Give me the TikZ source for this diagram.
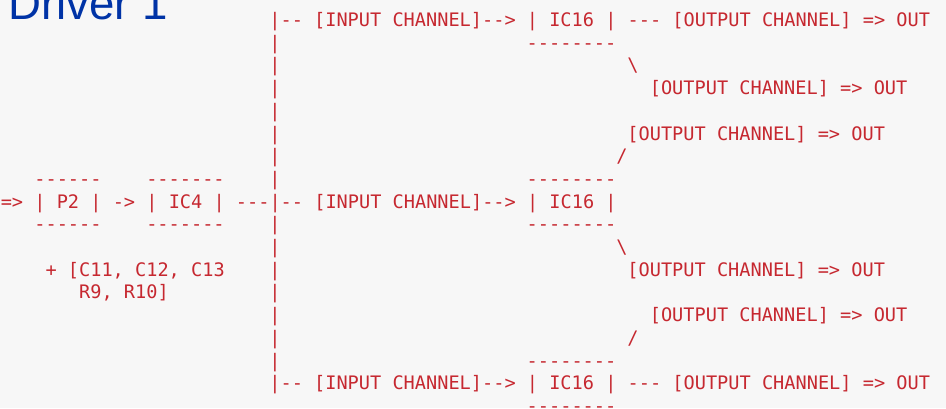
\documentclass[tikz,border=0pt]{standalone}
\usepackage{fontspec}
\setmainfont{Liberation Sans}
\newfontfamily\asciimono{DejaVu Sans Mono}
\definecolor{asciired}{RGB}{198,40,48}
\definecolor{titleblue}{RGB}{0,51,166}
\definecolor{paper}{RGB}{247,247,247}

\begin{document}
\begin{tikzpicture}[x=1pt,y=1pt,
  art/.style={anchor=base west, inner sep=0pt, outer sep=0pt, text=asciired,
              font=\asciimono\fontsize{18.6}{22.7}\selectfont},
  heading/.style={anchor=base west, inner sep=0pt, outer sep=0pt, text=titleblue,
              font=\fontsize{45.6}{50}\selectfont}]
\useasboundingbox (0,0) rectangle (946,-408);
\fill[paper] (0,0) rectangle (946,-408);
\clip (0,0) rectangle (946,-408);

% slide heading
\node[heading] (title) at (8.4,-19.5) {Driver 1};

% character grid: x = column, y = line
\begin{scope}[x=11.19pt, y=-22.7pt, shift={(0.8pt,-26.5pt)}]
  % trunk of the fan-out
  \foreach \r in {1,2,3,4,5,6,7,9,10,11,12,13,14,15}
    \node[art] (bar\r) at (24,\r) {|};

  % upper branch
  \node[art] (branchA) at (24,0) {|-- [INPUT CHANNEL]--> | IC16 | --- [OUTPUT CHANNEL] => OUT};
  \node[art] (icAbot) at (47,1) {--------};
  \node[art] (slashA) at (56,2) {\textbackslash};
  \node[art] (outA2) at (58,3) {[OUTPUT CHANNEL] => OUT};

  % middle branch
  \node[art] (outB1) at (56,5) {[OUTPUT CHANNEL] => OUT};
  \node[art] (slashB1) at (55,6) {/};
  \node[art] (ptop) at (3,7) {------};
  \node[art] (ictop) at (13,7) {-------};
  \node[art] (icBtop) at (47,7) {--------};
  \node[art] (mainline) at (0,8) {=> | P2 | -> | IC4 | ---|-- [INPUT CHANNEL]--> | IC16 |};
  \node[art] (pbot) at (3,9) {------};
  \node[art] (icbot) at (13,9) {-------};
  \node[art] (icBbot) at (47,9) {--------};
  \node[art] (slashB2) at (55,10) {\textbackslash};
  \node[art] (parts1) at (4,11) {+ [C11, C12, C13};
  \node[art] (outB2) at (56,11) {[OUTPUT CHANNEL] => OUT};
  \node[art] (parts2) at (7,12) {R9, R10]};

  % lower branch
  \node[art] (outC1) at (58,13) {[OUTPUT CHANNEL] => OUT};
  \node[art] (slashC) at (56,14) {/};
  \node[art] (icCtop) at (47,15) {--------};
  \node[art] (branchC) at (24,16) {|-- [INPUT CHANNEL]--> | IC16 | --- [OUTPUT CHANNEL] => OUT};
  \node[art] (icCbot) at (47,17) {--------};
\end{scope}
\end{tikzpicture}
\end{document}
